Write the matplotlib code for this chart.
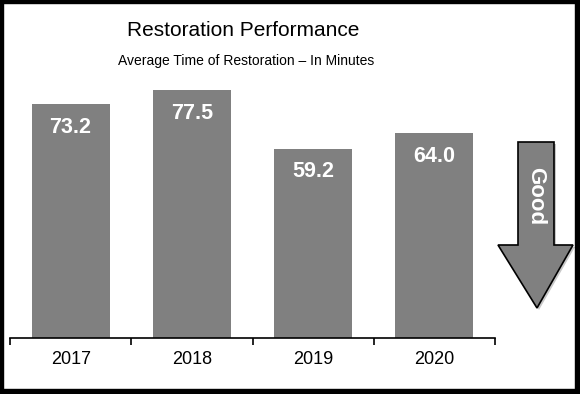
import matplotlib.pyplot as plt
from matplotlib.patches import Polygon, Rectangle

years = ['2017', '2018', '2019', '2020']
minutes = [73.2, 77.5, 59.2, 64.0]

W, H = 580, 394
fig = plt.figure(figsize=(W / 100, H / 100), dpi=100)

def px(x, y):
    # pixel coords (top-left origin) -> figure fraction
    return x / W, 1 - y / H

# axes: x 10..495 px, baseline at y=338, top at y=60
l, b = px(10, 338)
r, t = px(495, 60)
ax = fig.add_axes([l, b, r - l, t - b])
ax.bar(range(len(years)), minutes, width=0.645, color='#808080')
ax.set_xlim(-0.5, len(years) - 0.5)
ax.set_ylim(0, (338 - 60) / 3.2)
for s in ['top', 'right', 'left']:
    ax.spines[s].set_visible(False)
ax.spines['bottom'].set_linewidth(1.2)
ax.set_yticks([])
ax.set_xticks([i - 0.5 for i in range(len(years) + 1)])
ax.set_xticklabels([])
ax.tick_params(axis='x', length=5, width=1.2, direction='out')
for i, yr in enumerate(years):
    ax.text(i, -4.2, yr, ha='center', va='top', fontsize=13,
            family='Liberation Sans')
for i, v in enumerate(minutes):
    ax.text(i, v - 7.3, f'{v:.1f}', ha='center', va='center', fontsize=15.5,
            fontweight='bold', color='white', family='Liberation Sans')

fig.text(*px(243, 31), 'Restoration Performance', ha='center', va='center',
         fontsize=15, family='Liberation Sans')
fig.text(*px(246, 61), 'Average Time of Restoration \u2013 In Minutes',
         ha='center', va='center', fontsize=10, family='Liberation Sans')

# "Good" arrow
arrow = [(518, 142), (554, 142), (554, 245), (573, 245), (537, 308),
         (498, 245), (518, 245)]
fig.patches.append(Polygon([px(x + 2, y + 2) for x, y in arrow],
                           closed=True, transform=fig.transFigure,
                           facecolor='#c8c8c8', edgecolor='none'))
fig.patches.append(Polygon([px(x, y) for x, y in arrow], closed=True,
                           transform=fig.transFigure, facecolor='#808080',
                           edgecolor='black', linewidth=1.2))
fig.text(*px(536, 196), 'Good', rotation=-90, ha='center', va='center',
         fontsize=16, fontweight='bold', color='white', family='Liberation Sans')

# frame with shadow
frame = [(0, 0, 3, H), (0, 0, W, 3), (W - 5, 0, 5, H), (0, H - 5, W, 5)]
for x, y, w, h in frame:
    x0, y0 = px(x, y + h)
    fig.patches.append(Rectangle((x0, y0), w / W, h / H,
                                 transform=fig.transFigure, color='black'))

fig.savefig('out.png', dpi=100)
